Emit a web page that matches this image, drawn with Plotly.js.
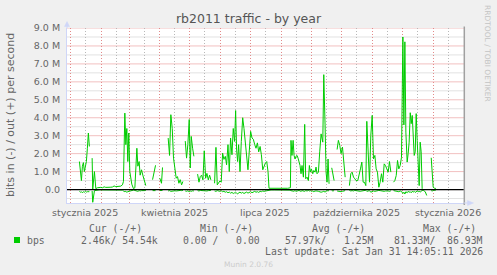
<!DOCTYPE html>
<html>
<head>
<meta charset="utf-8">
<script src="https://cdn.plot.ly/plotly-3.0.1.min.js"></script>
<style>
html,body{margin:0;padding:0;background:#f0f0f0;}
#chart{width:497px;height:275px;}
</style>
</head>
<body>
<div id="chart"></div>
<script>
// ---- data (days since 2025-01-01, values in Mbit/s) ----
const dayOffsets = [
 9,10,11,12,13,14,15,16,17,18,19,20.5,
 21.8,22.4,24.1,25.5,27.1,28.8,30.5,32.2,33.9,35.5,37.2,38.9,40.6,42.2,43.9,45.6,47.3,48.9,50.6,52.3,
 53.3,54.7,55.7,56.7,57.7,58.7,59.7,61.7,63.4,64.8,66.8,67.8,69.1,70.1,71.5,72.8,74.2,75.8,79,
 82.6,84.2,85.6,87.8,89.9,91.6,92.6,95.5,
 98.3,99.7,101.0,102.4,103.7,105.1,106.4,107.7,109.1,110.4,111.8,113.1,114.3,
 115.5,116.8,118.1,119.5,120.5,121.5,122.9,124.2,126,
 127.9,129.3,130.6,131.9,133.3,134.6,136.0,137.3,138.7,140.0,141.3,143.2,
 145.0,146.4,147.7,149.1,150.4,151.7,153.1,154.4,155.8,157.1,158.5,159.8,161.1,162.5,163.8,165.2,
 166.2,167.2,168.2,169.2,170.6,171.9,173.3,174.6,175.9,177.3,178.6,180.0,181.3,182.7,184.0,185.4,
 186.7,188.1,189.4,190.8,192.1,193.5,194.8,196.1,197.5,198.8,199.8,
 201.8,205.1,208.5,211.9,215.2,218.6,221.3,
 221.9,222.9,224.0,225.0,226.0,227.0,228.0,229.0,230.0,231.0,232.0,233.0,234.4,235.7,236.7,238.1,
 239.4,240.4,241.4,242.4,243.8,244.8,246.1,247.1,248.1,249.5,250.8,252.2,253.9,254.9,256.2,257.2,
 258.2,259.2,260.2,261.5,262.9,264.3,265.3,266.8,
 268.3,269.6,271.0,272.3,273.7,275.0,276.4,278.5,
 280.7,282.1,283.4,284.8,286.1,287.4,289.1,290.5,291.8,293.2,294.5,295.8,297.2,298.2,299.5,300.9,
 302.2,303.6,304.9,306.3,307.6,308.9,310.3,311.6,313.0,314.3,315.7,317.0,318.3,319.7,321.0,322.4,323.8,
 325.1,326.4,327.8,329.1,330.4,331.8,333.1,334.5,335.5,336.5,337.5,338.8,339.8,340.8,341.9,342.9,
 343.9,344.9,345.9,346.9,347.9,348.9,349.9,350.9,351.9,352.9,353.9,
 355.5,357.0,358.5,360,
 363.0,364.0,365.0,366.4,367.7
];
const outMbps = [
 1.56,0.80,0.50,1.30,1.50,1.00,1.30,1.56,2.30,3.15,2.40,null,
 1.75,0.02,1.00,0.05,0.10,0.13,0.12,0.10,0.15,0.12,0.11,0.10,0.13,0.14,0.20,0.16,0.17,0.15,0.19,0.26,
 0.45,4.26,2.50,3.40,1.56,3.15,1.00,0.30,0.05,0.10,2.30,1.30,1.56,0.80,1.10,0.80,0.55,0.22,null,
 0.55,1.10,1.35,null,0.63,0.35,1.23,null,
 2.87,1.90,4.17,3.40,1.75,1.00,0.63,0.72,0.35,0.55,0.26,0.45,null,
 2.70,1.75,2.50,3.90,1.20,2.96,2.30,1.85,null,
 0.86,0.41,0.72,0.80,0.54,2.16,0.63,0.90,0.54,0.80,0.54,null,
 0.35,2.35,0.26,0.35,0.48,0.41,2.03,1.68,1.85,1.38,2.50,1.00,2.87,1.94,3.40,2.68,
 4.40,2.20,1.56,2.50,1.00,2.68,4.00,3.40,2.50,1.66,1.10,2.20,3.24,2.87,2.80,2.50,
 2.30,2.60,2.10,2.40,1.94,1.10,1.30,1.47,1.56,1.00,0.07,
 0.07,0.06,0.05,0.06,0.05,0.07,0.10,
 2.74,1.90,2.74,1.90,1.70,1.86,1.90,1.75,1.53,1.34,0.88,1.34,0.69,3.63,0.60,0.69,
 0.50,1.34,0.97,1.15,0.88,1.06,0.97,1.25,0.88,0.97,2.10,3.10,2.64,6.40,3.60,0.97,
 0.41,1.70,0.32,null,1.21,0.88,0.50,null,
 2.23,2.74,2.46,2.00,2.37,1.34,0.69,null,
 0.22,0.88,0.97,0.69,0.60,0.50,0.50,0.97,1.15,1.53,0.41,0.41,0.22,3.80,1.90,0.41,
 3.00,4.13,1.71,1.90,1.15,0.97,0.13,0.41,0.88,0.41,1.43,1.34,1.15,0.97,1.56,0.97,null,
 0.41,0.50,0.78,1.62,1.15,1.34,1.80,8.50,3.60,8.23,3.20,1.53,2.00,2.64,4.28,3.67,
 4.13,3.00,1.90,2.10,4.23,2.74,1.71,0.22,2.64,2.10,0.04,
 null,null,null,null,
 1.77,0.88,0.13,0.07,0.06
];
const inMbps = [
 0.10,0.15,0.12,0.18,0.12,0.15,0.10,0.14,0.12,0.10,0.12,null,
 0.08,0.71,0.06,0.04,0.02,0.02,0.02,0.02,0.02,0.02,0.02,0.02,0.02,0.02,0.02,0.02,0.02,0.02,0.03,0.03,
 0.08,0.12,0.10,0.15,0.12,0.10,0.08,0.05,0.03,0.05,0.08,0.10,0.06,0.08,0.06,0.08,0.06,0.05,null,
 0.06,0.08,0.06,null,0.05,0.06,0.05,null,
 0.08,0.06,0.10,0.08,0.10,0.07,0.08,0.06,0.07,0.05,0.06,0.05,null,
 0.08,0.10,0.07,0.12,0.08,0.10,0.07,0.08,null,
 0.06,0.08,0.05,0.06,0.08,0.07,0.06,0.08,0.06,0.07,0.05,null,
 0.08,0.10,0.06,0.08,0.10,0.07,0.12,0.10,0.15,0.12,0.18,0.14,0.20,0.16,0.22,0.18,
 0.15,0.20,0.25,0.18,0.15,0.20,0.16,0.22,0.18,0.14,0.20,0.16,0.12,0.18,0.14,0.10,
 0.15,0.12,0.16,0.10,0.12,0.08,0.10,0.08,0.06,0.05,0.03,
 0.02,0.02,0.02,0.02,0.02,0.02,0.03,
 0.08,0.06,0.10,0.08,0.06,0.10,0.08,0.06,0.05,0.08,0.10,0.06,0.08,0.10,0.06,0.08,
 0.05,0.08,0.06,0.10,0.08,0.12,0.08,0.06,0.08,0.10,0.12,0.15,0.12,0.10,0.14,0.08,
 0.06,0.08,0.05,null,0.06,0.08,0.05,null,
 0.08,0.10,0.08,0.12,0.10,0.08,0.06,null,
 0.05,0.08,0.06,0.08,0.05,0.07,0.06,0.08,0.10,0.08,0.06,0.05,0.04,0.10,0.08,0.06,
 0.15,0.12,0.08,0.10,0.07,0.08,0.05,0.06,0.08,0.06,0.10,0.08,0.06,0.08,0.10,0.07,null,
 0.06,0.08,0.06,0.10,0.12,0.08,0.10,0.22,0.15,0.25,0.12,0.18,0.10,0.15,0.12,0.18,
 0.10,0.14,0.10,0.16,0.12,0.08,0.12,0.10,0.14,0.08,0.05,
 0.06,0.12,0.33,null,
 0.06,0.08,0.05,0.04,0.03
];

const yTickVals = [0,1,2,3,4,5,6,7,8,9];
const yTickText = ['0.0','1.0 M','2.0 M','3.0 M','4.0 M','5.0 M','6.0 M','7.0 M','8.0 M','9.0 M'];
const yMinorVals = [-0.5,0.5,1.5,2.5,3.5,4.5,5.5,6.5,7.5,8.5];
const xLabelDates = ['2025-01-16','2025-04-16','2025-07-16','2025-10-16','2026-01-16'];
const xLabelTexts = ['stycznia 2025','kwietnia 2025','lipca 2025','października 2025','stycznia 2026'];
const xRange = ['2024-12-28 12:00','2026-02-01 00:00'];

const legendHeaders = ['Cur (-/+)','Min (-/+)','Avg (-/+)','Max (-/+)'];
const legendValues = ['2.46k/ 54.54k','0.00 /   0.00','57.97k/   1.25M','81.33M/  86.93M'];
const seriesName = 'bps';
const lastUpdate = 'Last update: Sat Jan 31 14:05:11 2026';

// ---- helpers ----
const DAY = 86400000;
const base = Date.UTC(2025,0,1);
function toDate(n){ return new Date(base + n*DAY).toISOString().slice(0,19).replace('T',' '); }
const xDates = dayOffsets.map(toDate);

const L=67, R=464, T=28, B=203, PW=R-L, PH=B-T;
function px(x){ return (x-L)/PW; }
function py(y){ return (B-y)/PH; }

const GREEN = '#00cc00';
const FONT = 'DejaVu Sans';
const MONO = 'DejaVu Sans Mono';
const FC = '#666666';
const MAJ = '#e38a8a';
const MIN = '#b8b8b8';
const DASH = '1px,2px';
const HMAJ = '#f2c0c0';
const HMIN = '#e2e2e2';

const traces = [
 {x:xDates, y:outMbps, type:'scatter', mode:'lines', line:{color:GREEN,width:1}, connectgaps:false, hoverinfo:'skip', showlegend:false},
 {x:xDates, y:inMbps.map(v=>v===null?null:-v), type:'scatter', mode:'lines', line:{color:GREEN,width:1}, connectgaps:false, hoverinfo:'skip', showlegend:false}
];

const ann = [];
function txt(text,x,y,opts){
  ann.push(Object.assign({text:text,x:px(x),y:py(y),xref:'paper',yref:'paper',showarrow:false,
    xanchor:'left',yanchor:'middle',borderpad:0,borderwidth:0,
    font:{family:MONO,size:9.8,color:FC}},opts||{}));
}
xLabelTexts.forEach((t,i)=>{
  ann.push({text:t,x:xLabelDates[i],xref:'x',y:py(212.5),yref:'paper',showarrow:false,xanchor:'center',yanchor:'middle',
    font:{family:FONT,size:9.5,color:FC}});
});
txt('bits in (-) / out (+) per second',10,115,{xanchor:'center',textangle:-90,font:{family:FONT,size:11,color:FC}});
txt('RRDTOOL / TOBI OETIKER',487.5,53.5,{xanchor:'center',textangle:90,font:{family:FONT,size:7.5,color:'#c4c4c4'}});
txt('Munin 2.0.76',248,264.5,{xanchor:'center',font:{family:FONT,size:7.5,color:'#cccccc'}});
const headerX = [89.3,200.3,312.3,423];
legendHeaders.forEach((h,i)=>txt(h,headerX[i],228));
txt(seriesName,26.7,240);
const valRight = [157.7,260.3,374.3,483];
legendValues.forEach((v,i)=>txt(v,valRight[i],240,{xanchor:'right'}));
txt(lastUpdate,483,251.5,{xanchor:'right'});

const AX = '#cfd6f8';
const shapes = [];
// horizontal grid lines as subplot shapes beneath the data
yMinorVals.forEach(v=>shapes.push({type:'line',xref:'x',x0:xRange[0],x1:xRange[1],yref:'y',y0:v,y1:v,layer:'below',line:{color:HMIN,width:1}}));
yTickVals.forEach(v=>shapes.push({type:'line',xref:'x',x0:xRange[0],x1:xRange[1],yref:'y',y0:v,y1:v,layer:'below',line:{color:HMAJ,width:1}}));
shapes.push(
 {type:'line',xref:'paper',x0:0,x1:1,yref:'y',y0:0,y1:0,line:{color:'#000',width:1.3},layer:'above'},
 {type:'line',xref:'paper',x0:px(464.3),x1:px(464.3),yref:'paper',y0:py(205),y1:py(26.5),line:{color:'#a0a0a0',width:1.5}},
 {type:'line',xref:'paper',yref:'paper',x0:px(67),x1:px(67),y0:py(28),y1:py(24),line:{color:AX,width:1}},
 {type:'path',xref:'paper',yref:'paper',path:`M ${px(64.5)} ${py(26.5)} L ${px(69.5)} ${py(26.5)} L ${px(67)} ${py(21.5)} Z`,fillcolor:AX,line:{color:AX,width:0.5}},
 {type:'line',xref:'paper',yref:'paper',x0:px(464),x1:px(468),y0:py(203),y1:py(203),line:{color:AX,width:1}},
 {type:'path',xref:'paper',yref:'paper',path:`M ${px(467.5)} ${py(200.5)} L ${px(467.5)} ${py(205.5)} L ${px(473.5)} ${py(203)} Z`,fillcolor:AX,line:{color:AX,width:0.5}},
 {type:'rect',xref:'paper',yref:'paper',x0:px(14),x1:px(20),y0:py(243),y1:py(237),fillcolor:GREEN,line:{width:0}}
);

const layout = {
 width:497,height:275,
 paper_bgcolor:'#f0f0f0',plot_bgcolor:'#ffffff',
 margin:{l:L,r:497-R,t:T,b:275-B,pad:0},
 showlegend:false,
 title:{text:'rb2011 traffic - by year',font:{family:FONT,size:12.5,color:'#555555'},
   x:0.5,xref:'container',xanchor:'center',y:1-18.5/275,yref:'container',yanchor:'middle'},
 xaxis:{type:'date',range:xRange,
   tickmode:'linear',tick0:'2025-01-01',dtick:'M1',showticklabels:false,ticks:'',
   showgrid:true,gridcolor:MAJ,griddash:DASH,gridwidth:1,
   minor:{tickmode:'linear',tick0:'2024-12-16',dtick:'M1',showgrid:true,gridcolor:MIN,griddash:DASH,gridwidth:1,ticks:''},
   showline:true,linecolor:AX,linewidth:1,zeroline:false,fixedrange:true},
 yaxis:{range:[-0.75,9],tickmode:'array',tickvals:yTickVals,ticktext:yTickText,ticks:'',ticklabelstandoff:4,
   tickfont:{family:FONT,size:9.5,color:FC},
   showgrid:false,
   showline:true,linecolor:AX,linewidth:1,zeroline:false,fixedrange:true},
 annotations:ann,
 shapes:shapes
};

Plotly.newPlot('chart',traces,layout,{staticPlot:true,displayModeBar:false});
</script>
</body>
</html>
